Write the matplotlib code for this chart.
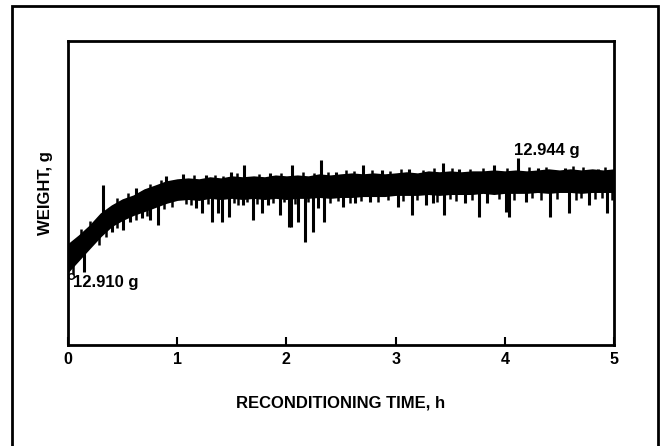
import matplotlib.pyplot as plt
from matplotlib.patches import Rectangle

# Reconditioning trace: weight band (top / bottom of the noisy trace) every 0.1 h
time_h = [i / 10 for i in range(51)]
band_top = [12.9163, 12.9202, 12.9246, 12.9299, 12.9334, 12.9361, 12.9378, 12.9405, 12.9422, 12.9440,
            12.9449, 12.9453, 12.9449, 12.9458, 12.9453, 12.9462, 12.9458, 12.9462, 12.9458, 12.9466,
            12.9462, 12.9466, 12.9462, 12.9471, 12.9466, 12.9471, 12.9475, 12.9471, 12.9475, 12.9471,
            12.9475, 12.9480, 12.9475, 12.9484, 12.9480, 12.9484, 12.9480, 12.9484, 12.9484, 12.9488,
            12.9484, 12.9488, 12.9484, 12.9488, 12.9493, 12.9488, 12.9493, 12.9488, 12.9493, 12.9488,
            12.9493]
band_bottom = [12.9044, 12.9097, 12.9150, 12.9202, 12.9246, 12.9273, 12.9295, 12.9312, 12.9330, 12.9348,
               12.9361, 12.9365, 12.9361, 12.9370, 12.9365, 12.9370, 12.9365, 12.9370, 12.9365, 12.9370,
               12.9365, 12.9370, 12.9370, 12.9374, 12.9370, 12.9374, 12.9374, 12.9378, 12.9378, 12.9378,
               12.9383, 12.9383, 12.9383, 12.9387, 12.9383, 12.9387, 12.9387, 12.9387, 12.9392, 12.9387,
               12.9392, 12.9392, 12.9392, 12.9396, 12.9392, 12.9396, 12.9396, 12.9392, 12.9396, 12.9396,
               12.9396]

# Downward spikes (time, lowest weight)
dip_time = [0.15, 0.23, 0.40, 0.50, 0.57, 0.68, 0.75, 0.82,
            1.17, 1.23, 1.32, 1.37, 1.41, 1.47, 1.60, 1.69, 1.78, 1.83, 1.94, 2.02,
            2.04, 2.11, 2.17, 2.24, 2.29, 2.34, 2.52, 2.63, 2.77, 3.02,
            3.15, 3.28, 3.34, 3.44, 3.64, 3.76, 3.84, 4.01,
            4.04, 4.19, 4.41, 4.59, 4.77, 4.94]
dip_weight = [12.9040, 12.9216, 12.9220, 12.9229, 12.9260, 12.9282, 12.9273, 12.9251,
              12.9326, 12.9304, 12.9260, 12.9304, 12.9264, 12.9286, 12.9339, 12.9273, 12.9304, 12.9339, 12.9295, 12.9238,
              12.9242, 12.9264, 12.9176, 12.9220, 12.9326, 12.9264, 12.9330, 12.9348, 12.9352, 12.9330,
              12.9295, 12.9339, 12.9348, 12.9295, 12.9348, 12.9286, 12.9348, 12.9308,
              12.9286, 12.9352, 12.9286, 12.9304, 12.9339, 12.9304]

# Short dips along the lower edge of the band
minor_dip_time = [0.05, 0.28, 0.35, 0.45, 0.62, 0.72, 0.88, 0.95, 1.08, 1.13, 1.28, 1.52, 1.56, 1.64,
                  1.73, 1.88, 1.98, 2.08, 2.20, 2.40, 2.47, 2.58, 2.68, 2.84, 2.93, 3.07, 3.20, 3.38,
                  3.50, 3.55, 3.70, 3.95, 4.08, 4.25, 4.33, 4.48, 4.65, 4.70, 4.83, 4.89, 4.98]
minor_dip_weight = [12.9030, 12.9160, 12.9195, 12.9235, 12.9270, 12.9290, 12.9320, 12.9330, 12.9340, 12.9335,
                    12.9340, 12.9345, 12.9335, 12.9350, 12.9340, 12.9345, 12.9350, 12.9340, 12.9350, 12.9345,
                    12.9355, 12.9345, 12.9355, 12.9350, 12.9358, 12.9355, 12.9360, 12.9352, 12.9362, 12.9355,
                    12.9360, 12.9365, 12.9360, 12.9368, 12.9358, 12.9365, 12.9360, 12.9370, 12.9362, 12.9368,
                    12.9360]

# Upward spikes (time, highest weight)
peak_time = [0.32, 0.62, 0.90, 1.05, 1.26, 1.49, 1.61, 1.85, 2.05, 2.32, 2.45, 2.70,
             2.88, 3.12, 3.43, 3.58, 3.90, 4.12, 4.30, 4.55, 4.85]
peak_weight = [12.9427, 12.9410, 12.9466, 12.9475, 12.9471, 12.9484, 12.9515, 12.9480, 12.9515, 12.9537, 12.9484, 12.9515,
               12.9493, 12.9497, 12.9524, 12.9497, 12.9515, 12.9546, 12.9502, 12.9502, 12.9497]

# Short bumps along the upper edge of the band
minor_peak_time = [0.12, 0.20, 0.45, 0.55, 0.75, 0.85, 1.15, 1.35, 1.42, 1.55, 1.75, 1.95, 2.15, 2.25, 2.38,
                   2.55, 2.62, 2.78, 2.95, 3.05, 3.25, 3.35, 3.52, 3.68, 3.80, 4.02, 4.22, 4.38, 4.62, 4.72, 4.92]
minor_peak_weight = [12.9230, 12.9265, 12.9368, 12.9388, 12.9430, 12.9448, 12.9468, 12.9470, 12.9466, 12.9478,
                     12.9475, 12.9480, 12.9482, 12.9478, 12.9484, 12.9490, 12.9486, 12.9492, 12.9488, 12.9495,
                     12.9490, 12.9498, 12.9500, 12.9495, 12.9502, 12.9500, 12.9504, 12.9506, 12.9508, 12.9504,
                     12.9506]

x_ticks = [0, 1, 2, 3, 4, 5]

font = {'family': 'Liberation Sans', 'weight': 'bold'}

fig = plt.figure(figsize=(6.63, 4.46), dpi=100)
# outer frame of the scanned figure
fig.patches.append(Rectangle((12 / 663, -0.1), 646 / 663, 1.1 - 6 / 446, transform=fig.transFigure,
                             fill=False, edgecolor='black', linewidth=2))

ax = fig.add_axes([68 / 663, 1 - 345 / 446, 546 / 663, 304 / 446])

ax.fill_between(time_h, band_bottom, band_top, color='black', linewidth=1.2, edgecolor='black')
mid = {t: (lo + hi) / 2 for t, lo, hi in zip(time_h, band_bottom, band_top)}


def spikes(times, values, lw):
    ax.vlines(times, [mid[round(t, 1)] for t in times], values, color='black', linewidth=lw)


spikes(dip_time, dip_weight, 2.2)
spikes(peak_time, peak_weight, 2.2)
spikes(minor_dip_time, minor_dip_weight, 1.8)
spikes(minor_peak_time, minor_peak_weight, 1.8)
ax.plot([0.03], [12.9026], marker='o', markersize=4, markerfacecolor='white', markeredgecolor='black')

ax.text(0.05, 12.8996, '12.910 g', ha='left', va='center', fontsize=12, **font)
ax.text(4.08, 12.9576, '12.944 g', ha='left', va='center', fontsize=12, **font)

ax.set_xlim(0, 5)
ax.set_ylim(12.872, 13.006)
ax.set_xticks(x_ticks)
ax.set_xticklabels([str(t) for t in x_ticks], fontsize=11.5, **font)
ax.set_yticks([])
ax.tick_params(axis='x', direction='in', length=6, width=1.5, pad=5)
for s in ax.spines.values():
    s.set_linewidth(2)

ax.set_xlabel('RECONDITIONING TIME, h', fontsize=12, **font)
ax.xaxis.set_label_coords(0.5, -0.19)
ax.xaxis.label.set_va('center')
ax.set_ylabel('WEIGHT, g', fontsize=12, **font)
ax.yaxis.set_label_coords(-0.042, 0.5)
ax.yaxis.label.set_va('center')

fig.savefig('out.png', dpi=100)
